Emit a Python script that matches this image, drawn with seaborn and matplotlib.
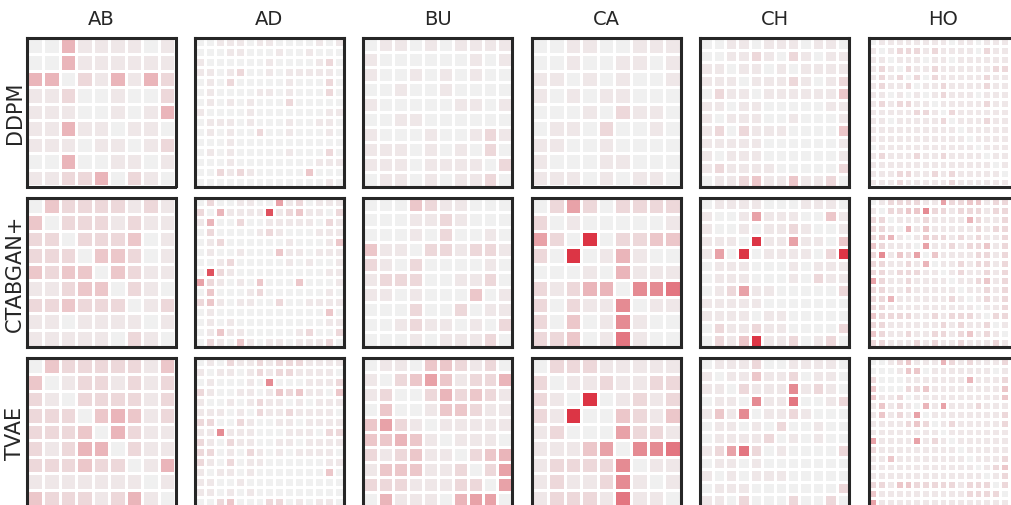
import numpy as np
import matplotlib
matplotlib.use("Agg")
import matplotlib.pyplot as plt
import seaborn as sns

# column / row labels
datasets = ["AB", "AD", "BU", "CA", "CH", "HO"]
models = ["DDPM", "CTABGAN+", "TVAE"]

levels = [0, .05, .13, .22, .32, .42, .54, .65, .85, 1.0]

ddpm_ab = ["004111101", "004111111", "440214142", "112001002", "111001014",
           "114110110", "111011012", "004001101", "112240210"]
ddpm_ad = ["001110110000101", "000110001001000", "100000010000120", "110120010111110",
           "010200000100020", "010000110100020", "010101000200000", "100001000000011",
           "011101000100110", "010100200100010", "000100000000000", "010100000100020",
           "000100000000111", "002121000003000", "000000000000010"]
ddpm_bu = ["0110101111", "1000000101", "1001010100", "0010010000", "1000001101",
           "0011000000", "1000100121", "1110101020", "1110111102", "0110101120"]
ddpm_ca = ["001100111", "001001101", "110101001", "101011000", "000102110",
           "011020010", "110010000", "100011000", "111010110"]
ddpm_ch = ["001101110110", "001121021011", "110110101111", "111011121012",
           "021101111113", "110110000011", "101110010001", "120211100003",
           "111110000001", "101110000001", "121111000002", "011231131120"]
ddpm_ho = ["01111111101101111", "10122212111102111", "11011101101111111",
           "12102112111111221", "12120202111112111", "12112011211112111",
           "11010101211101111", "12122110111112111", "11111221021111111",
           "11011111201112111", "11111111110111111", "11111111111011111",
           "01111111111101111", "12111211211110111", "11111111111111011",
           "11122112121111101", "11121111121111110"]

ctab_ab = ["032222121", "302221211", "220222301", "222033201", "323303211",
           "112330210", "223222012", "110111101", "111110210"]
ctab_ad = ["020011005120111", "204111181231102", "140020011111021", "020000121000111",
           "012000000100013", "010010003110111", "001200000101001", "082100000000011",
           "521010300030001", "030001200000010", "231011002001111", "010000000000030",
           "010100000000011", "013110000012002", "021031011011120"]
ctab_bu = ["0003211000", "0001121000", "0001020010", "3110221221", "2102000010",
           "1222001120", "1101000301", "0002002011", "0012110102", "0001011120"]
ctab_ca = ["025202222", "201000001", "520902233", "209014100", "000104111",
           "212440667", "202116011", "203016100", "223017100"]
ctab_ch = ["011110001110", "100151110031", "100101121001", "111091151103",
           "150901111029", "011100010111", "011100010211", "012511000002",
           "111110000000", "111101100000", "021121100002", "021391120120"]
ctab_ho = ["01222211522331222", "10223362212221222", "22011121111421121",
           "22104131111121221", "23410132212121122", "32111051121223122",
           "26132503111122122", "22112140112122121", "22122211012112121",
           "52112111101123122", "22112111110112121", "22411111121012121",
           "22111111111101122", "32222112122210221", "22111111212112011",
           "32112112212312101", "22111212112111210"]

tvae_ab = ["032222213", "301221212", "210222212", "222034312", "222304211",
           "212440211", "222322014", "111111101", "322212410"]
tvae_ad = ["010211212221111", "101101212211110", "010001060001112", "210011013231103",
           "100101211010111", "111010211211110", "220021001101111", "116111000111022",
           "210211001101111", "220102101011110", "210201100000011", "101101000000030",
           "110010000000000", "110101000000000", "002300022010110"]
tvae_bu = ["0110332120", "1023531224", "1200242321", "0300133211", "3521011111",
           "3343101110", "2123110234", "1333112025", "2221112205", "0411104550"]
tvae_ca = ["022211111", "201121122", "210901212", "219003213", "120005221",
           "111350667", "122226011", "121126101", "122217110"]
tvae_ch = ["011120011110", "101131120110", "110211161210", "011061170012",
           "131601121000", "011010200100", "011112010100", "125720100002",
           "011010000000", "101011100000", "011100000002", "110200020020"]
tvae_ho = ["00123111421211125", "00013301111111011", "20001111111411121",
           "30002231111111131", "31120111111111131", "13121041511121112",
           "13121501111111121", "11112320121111121", "11111111011111111",
           "51111512101111111", "21111111110111111", "11311111111011121",
           "11111111111101231", "11111111111110121", "22133222221222022",
           "31111111111222201", "51111111111111110"]

grid = [
    [ddpm_ab, ddpm_ad, ddpm_bu, ddpm_ca, ddpm_ch, ddpm_ho],
    [ctab_ab, ctab_ad, ctab_bu, ctab_ca, ctab_ch, ctab_ho],
    [tvae_ab, tvae_ad, tvae_bu, tvae_ca, tvae_ch, tvae_ho],
]


def to_matrix(rows):
    return np.array([[levels[int(c)] for c in r] for r in rows])


sns.set_theme(style="white")
plt.rcParams["font.family"] = ["DejaVu Sans"]
cmap = sns.blend_palette(["#f0f0f0", "#dc3545"], as_cmap=True)

W, H = 1011, 506
fig = plt.figure(figsize=(W / 100, H / 100), dpi=100)

size = 149
x0, y0 = 26.5, 38.5
dx, dy = 168.4, 160

for i, model in enumerate(models):
    for j, ds in enumerate(datasets):
        left = x0 + j * dx
        top = y0 + i * dy
        ax = fig.add_axes([left / W, 1 - (top + size) / H, size / W, size / H])
        sns.heatmap(to_matrix(grid[i][j]), ax=ax, cmap=cmap, vmin=0, vmax=1,
                    cbar=False, linewidths=0.75, linecolor="white",
                    xticklabels=False, yticklabels=False)
        for sp in ax.spines.values():
            sp.set_visible(True)
            sp.set_linewidth(2.2)
            sp.set_color("#262626")
        if i == 0:
            ax.set_title(ds, fontsize=14, color="#262626", pad=10)
        if j == 0:
            ax.set_ylabel(model, fontsize=15, color="#262626", labelpad=1)

fig.savefig("out.png", dpi=100)
